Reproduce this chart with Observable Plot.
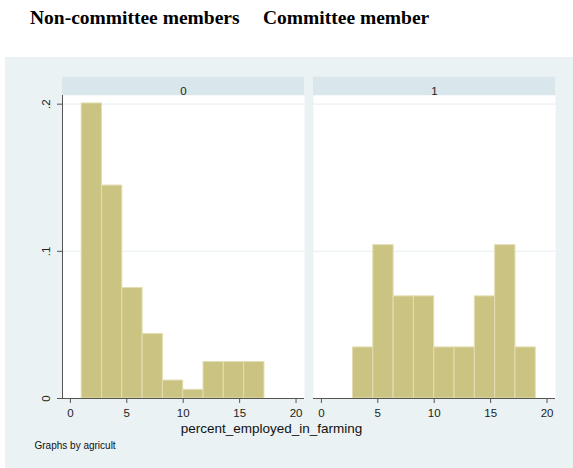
<!DOCTYPE html>
<html>
<head>
<meta charset="utf-8">
<script src="https://cdn.jsdelivr.net/npm/d3@7"></script>
<script src="https://cdn.jsdelivr.net/npm/@observablehq/plot@0.6"></script>
<style>
  html, body { margin: 0; padding: 0; background: #ffffff; }
  #head { position: relative; height: 57px; font-family: "Liberation Serif", "Times New Roman", serif; font-weight: bold; font-size: 19.5px; color: #000; }
  #head span { position: absolute; top: 7px; white-space: nowrap; }
  #chart { padding-left: 5px; }
  #chart svg { display: block; }
</style>
</head>
<body>
<div id="head"><span style="left:30px">Non-committee members</span><span style="left:263px">Committee member</span></div>
<div id="chart"></div>
<script>
// Facet groups (agricult)
const groups = ["0", "1"];
// Bin edges
const edges0 = [1.0, 2.8, 4.6, 6.4, 8.2, 10.0, 11.8, 13.6, 15.4, 17.2];
const edges1 = [2.8, 4.6, 6.4, 8.2, 10.0, 11.8, 13.6, 15.4, 17.2, 19.0];
// Densities
const density0 = [0.2005, 0.1447, 0.0751, 0.0438, 0.0122, 0.0059, 0.0248, 0.0248, 0.0248];
const density1 = [0.0347, 0.1042, 0.0694, 0.0694, 0.0347, 0.0347, 0.0694, 0.1042, 0.0347];
// Axis ticks
const xTicks = [0, 5, 10, 15, 20];
const yTicks = [0, 0.1, 0.2];
const xTitle = "percent_employed_in_farming";
const note = "Graphs by agricult";

const bins = [];
density0.forEach((d, i) => bins.push({g: "0", x1: edges0[i], x2: edges0[i + 1], y: d}));
density1.forEach((d, i) => bins.push({g: "1", x1: edges1[i], x2: edges1[i + 1], y: d}));

const yMax = 0.2059;
const yFmt = d => d === 0 ? "0" : d3.format(".1f")(d).replace(/^0/, "");

const chart = Plot.plot({
  width: 568,
  height: 411,
  marginLeft: 56,
  marginRight: 17,
  marginTop: 38,
  marginBottom: 70,
  style: {background: "#eaf2f3", fontFamily: "'Liberation Sans', Arial, sans-serif", color: "#222"},
  fx: {domain: groups, paddingInner: 0.0357, paddingOuter: 0, axis: null},
  x: {domain: [-0.7, 20.75]},
  y: {domain: [0, yMax]},
  marks: [
    Plot.frame({fill: "white", stroke: null}),
    Plot.rect([0], {y1: yMax, y2: yMax + 0.01245, fill: "#d9e6eb"}),
    Plot.text(groups, {fx: d => d, text: d => d, frameAnchor: "top", dy: -9, fontSize: 11.5, fill: "#222"}),
    Plot.ruleY([0.1, 0.2], {stroke: "#eaf2f3", strokeWidth: 1.2}),
    Plot.rectY(bins, {fx: "g", x1: "x1", x2: "x2", y: "y", fill: "#cbc381", stroke: "#e2deb2", strokeWidth: 1}),
    Plot.ruleY([0], {stroke: "#555"}),
    Plot.axisX({ticks: xTicks, tickSize: 5, tickPadding: 5, label: null, fontSize: 11.5, stroke: "#555"}),
    Plot.axisY({ticks: yTicks, tickSize: 5, tickPadding: 8, tickRotate: -90, tickFormat: yFmt, label: null, fontSize: 11.5, stroke: "#555"}),
    Plot.frame({anchor: "left", facetAnchor: "left", stroke: "#555"}),
    Plot.text([xTitle], {text: d => d, frameAnchor: "bottom", facetAnchor: "left", dx: 88, dy: 34, fontSize: 13.5, fill: "#111"}),
    Plot.text([note], {text: d => d, frameAnchor: "bottom-left", facetAnchor: "left", textAnchor: "start", dx: -28, dy: 50, fontSize: 10, fill: "#111"})
  ]
});
document.getElementById("chart").appendChild(chart);
</script>
</body>
</html>
